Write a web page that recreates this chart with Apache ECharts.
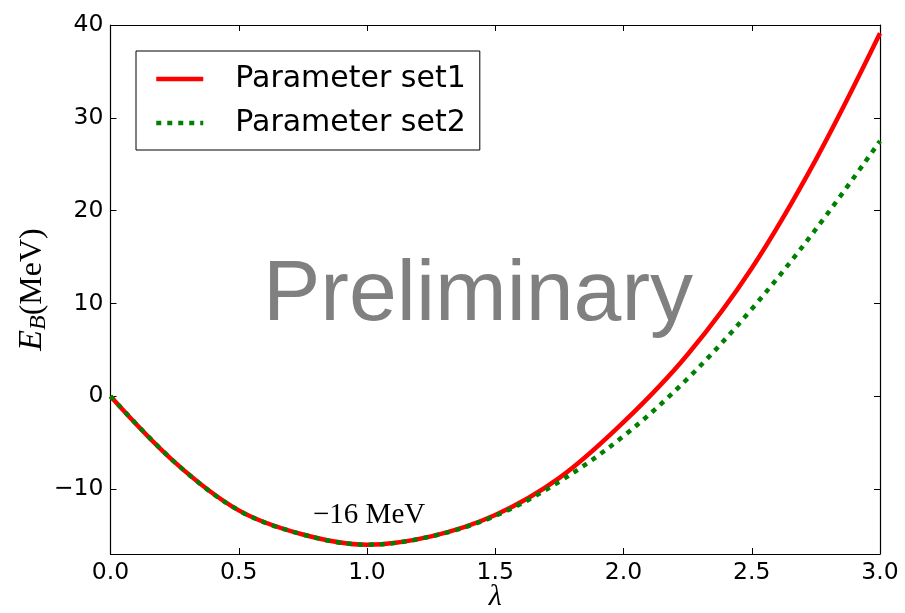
<!DOCTYPE html>
<html>
<head>
<meta charset="utf-8">
<script src="https://cdn.jsdelivr.net/npm/echarts@6/dist/echarts.min.js"></script>
<style>
  html, body { margin: 0; padding: 0; background: #fff; }
  #chart { width: 905px; height: 613px; }
</style>
</head>
<body>
<div id="chart"></div>
<script>
// Binding energy E_B (MeV) against the scaling parameter lambda
const lambdaValues = [0, 0.25, 0.5, 0.75, 1.0, 1.25, 1.5, 1.75, 2.0, 2.25, 2.5, 2.75, 3.0];
const energySet1 = [0, -7.1, -12.3, -14.9, -16.0, -15.1, -12.8, -8.8, -2.8, 4.5, 13.8, 25.5, 39.1];
const energySet2 = [0, -7.1, -12.3, -14.9, -16.0, -15.1, -12.9, -9.2, -4.3, 1.9, 9.4, 18.0, 27.5];
const seriesNames = ['Parameter set1', 'Parameter set2'];
const yTickValues = [-10, 0, 10, 20, 30, 40];
const minimumEnergy = -16;

const pairs = (ys) => lambdaValues.map((x, i) => [x, ys[i]]);
const minus = (v) => String(v).replace('-', '\u2212');

const chart = echarts.init(document.getElementById('chart'), null, { renderer: 'canvas' });

const tickFont = { fontFamily: 'DejaVu Sans', fontSize: 23.5, color: '#000' };
const frameLine = { show: true, onZero: false, lineStyle: { color: '#000', width: 1.2 } };

chart.setOption({
  animation: false,
  backgroundColor: '#fff',
  grid: { left: 110.5, right: 25, top: 25, bottom: 59, containLabel: false, outerBoundsMode: 'none' },
  legend: {
    orient: 'vertical',
    left: 136,
    top: 51,
    data: seriesNames,
    backgroundColor: '#fff',
    borderColor: '#000',
    borderWidth: 1,
    borderRadius: 0,
    padding: [13, 14, 12, 18],
    itemWidth: 47,
    itemHeight: 14,
    itemGap: 14,
    itemStyle: { opacity: 0 },
    lineStyle: { width: 4.5 },
    textStyle: { fontFamily: 'DejaVu Sans', fontSize: 30, color: '#000', padding: [0, 0, 0, 27] }
  },
  xAxis: [
    {
      type: 'value', min: 0, max: 3, interval: 0.5,
      position: 'bottom',
      axisLine: frameLine,
      axisTick: { show: true, inside: true, length: 6, lineStyle: { color: '#000' } },
      axisLabel: Object.assign({ margin: 7, formatter: (v) => v.toFixed(1) }, tickFont),
      splitLine: { show: false },
      name: 'λ',
      nameLocation: 'middle',
      nameGap: 28,
      nameMoveOverlap: false,
      nameTextStyle: { fontFamily: 'Liberation Serif', fontStyle: 'italic', fontSize: 30, color: '#000' }
    },
    {
      type: 'value', min: 0, max: 3, interval: 0.5,
      position: 'top',
      axisLine: frameLine,
      axisTick: { show: true, inside: true, length: 6, lineStyle: { color: '#000' } },
      axisLabel: { show: false },
      splitLine: { show: false }
    }
  ],
  yAxis: [
    {
      type: 'value', min: -17, max: 40,
      position: 'left',
      axisLine: frameLine,
      axisTick: { show: true, inside: true, length: 6, customValues: yTickValues, lineStyle: { color: '#000' } },
      axisLabel: Object.assign({ margin: 7, customValues: yTickValues, formatter: minus }, tickFont),
      splitLine: { show: false },
      name: '{e|E}{sub|B}{r|(MeV)}',
      nameLocation: 'middle',
      nameRotate: 90,
      nameGap: 60,
      nameMoveOverlap: false,
      nameTextStyle: {
        color: '#000',
        rich: {
          e: { fontFamily: 'Liberation Serif', fontStyle: 'italic', fontSize: 34, color: '#000', lineHeight: 36 },
          sub: { fontFamily: 'Liberation Serif', fontStyle: 'italic', fontSize: 24, color: '#000', verticalAlign: 'bottom', lineHeight: 36, padding: [10, 0, 0, 0] },
          r: { fontFamily: 'Liberation Serif', fontSize: 32, color: '#000', lineHeight: 36 }
        }
      }
    },
    {
      type: 'value', min: -17, max: 40,
      position: 'right',
      axisLine: frameLine,
      axisTick: { show: true, inside: true, length: 6, customValues: yTickValues, lineStyle: { color: '#000' } },
      axisLabel: { show: false },
      splitLine: { show: false }
    }
  ],
  series: [
    {
      name: seriesNames[0],
      type: 'line',
      data: pairs(energySet1),
      smooth: 0.35,
      symbol: 'none',
      lineStyle: { color: '#ff0000', width: 4.5, type: 'solid' },
      itemStyle: { color: '#ff0000' },
      z: 2
    },
    {
      name: seriesNames[1],
      type: 'line',
      data: pairs(energySet2),
      smooth: 0.35,
      symbol: 'none',
      lineStyle: { color: '#008000', width: 4.5, type: [5, 6], cap: 'butt' },
      itemStyle: { color: '#008000' },
      z: 3
    }
  ]
});

// Annotation of the minimum and the watermark
const minPx = chart.convertToPixel({ xAxisIndex: 0, yAxisIndex: 0 }, [1.0, minimumEnergy]);
chart.setOption({
  graphic: [
    {
      type: 'text',
      left: 263,
      top: 253,
      style: { text: 'Preliminary', fontFamily: 'Liberation Sans', fontSize: 86, fill: '#808080' },
      z: 1
    },
    {
      type: 'text',
      x: minPx[0] - 54,
      y: minPx[1] - 44,
      style: { text: '\u221216 MeV', fontFamily: 'Liberation Serif', fontSize: 29, fill: '#000' },
      z: 10
    }
  ]
});
</script>
</body>
</html>
